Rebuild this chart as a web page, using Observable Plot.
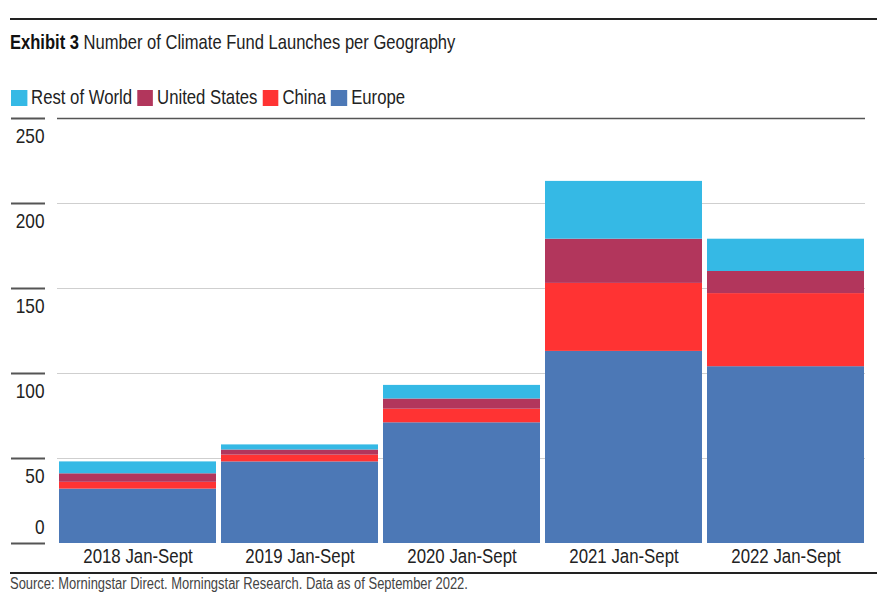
<!DOCTYPE html>
<html>
<head>
<meta charset="utf-8">
<script src="https://cdn.jsdelivr.net/npm/d3@7"></script>
<script src="https://cdn.jsdelivr.net/npm/@observablehq/plot@0.6"></script>
<style>
  html, body { margin: 0; padding: 0; background: #fff; }
  #wrap { position: relative; width: 895px; height: 604px; font-family: "Liberation Sans", Arial, sans-serif; color: #222; overflow: hidden; }
  .rule { position: absolute; left: 10px; width: 867px; background: #222; }
  .narrow { transform: scaleX(0.82); transform-origin: 0 0; }
  #title { position: absolute; left: 10px; top: 31px; font-size: 20.2px; white-space: nowrap; color: #222; }
  #title b { color: #111; }
  #legend { position: absolute; left: 11px; top: 86px; display: flex; align-items: center; font-size: 20.4px; white-space: nowrap; color: #222; }
  #legend .item { display: flex; align-items: center; margin-right: 6px; }
  #legend .sw { width: 19.5px; height: 16px; margin-right: 5px; }
  #chart { position: absolute; left: 0; top: 110px; }
  #source { position: absolute; left: 10px; top: 575px; font-size: 15.8px; color: #444; white-space: nowrap; }
</style>
</head>
<body>
<div id="wrap">
  <div class="rule" style="top:18px;height:2px"></div>
  <div id="title" class="narrow"><b>Exhibit 3</b> Number of Climate Fund Launches per Geography</div>
  <div id="legend" class="narrow"></div>
  <div id="chart"></div>
  <div class="rule" style="top:572px;height:1.5px"></div>
  <div id="source" class="narrow">Source: Morningstar Direct. Morningstar Research. Data as of September 2022.</div>
</div>
<script>
const periods = ["2018 Jan-Sept", "2019 Jan-Sept", "2020 Jan-Sept", "2021 Jan-Sept", "2022 Jan-Sept"];
const geographies = ["Rest of World", "United States", "China", "Europe"];
const colors = ["#35B9E5", "#B2365C", "#FF3333", "#4C78B6"];
const europe = [32, 48, 71, 113, 104];
const china = [4, 4, 8, 40, 43];
const unitedStates = [5, 3, 6, 26, 13];
const restOfWorld = [7, 3, 8, 34, 19];
const yTicks = [0, 50, 100, 150, 200, 250];

const series = {"Europe": europe, "China": china, "United States": unitedStates, "Rest of World": restOfWorld};
const stackOrder = ["Europe", "China", "United States", "Rest of World"];
const rows = [];
for (const g of stackOrder) {
  periods.forEach((p, i) => rows.push({period: p, geo: g, value: series[g][i]}));
}

// legend
const legend = document.getElementById("legend");
geographies.forEach((g, i) => {
  const it = document.createElement("div");
  it.className = "item";
  it.innerHTML = `<span class="sw" style="background:${colors[i]}"></span><span>${g}</span>`;
  legend.appendChild(it);
});

const font = "Liberation Sans, Arial, sans-serif";
const chart = Plot.plot({
  width: 895,
  height: 460,
  marginTop: 8,
  marginBottom: 27,
  marginLeft: 57,
  marginRight: 30,
  style: {fontFamily: font, color: "#222", background: "#fff"},
  x: {domain: periods, paddingInner: 0.032, paddingOuter: 0, label: null},
  y: {domain: [0, 250], label: null},
  color: {domain: geographies, range: colors},
  marks: [
    Plot.ruleY(yTicks.filter(t => t > 0 && t < 250), {stroke: "#cfcfcf", strokeWidth: 1}),
    Plot.ruleY([250], {stroke: "#555", strokeWidth: 1.5}),
    Plot.barY(rows, {x: "period", y: "value", fill: "geo", order: stackOrder}),
    Plot.axisY(yTicks, {tickSize: 34, dx: -12, text: null, stroke: "#555", strokeWidth: 2}),
    Plot.axisY(yTicks.filter(t => t > 0), {tickSize: 0, tickPadding: 13, dy: 18, fontSize: 21, fill: "#222"}),
    Plot.axisY([0], {tickSize: 0, tickPadding: 13, dy: -16, fontSize: 21, fill: "#222"}),
    Plot.axisX({tickSize: 0, tickPadding: 5, fontSize: 20.5, fill: "#222", label: null})
  ]
});
document.getElementById("chart").appendChild(chart);
// condense SVG text to mimic a narrow typeface
chart.querySelectorAll("text").forEach(t => {
  const len = t.getComputedTextLength();
  if (len > 0) {
    t.setAttribute("textLength", (len * 0.82).toFixed(2));
    t.setAttribute("lengthAdjust", "spacingAndGlyphs");
  }
});
</script>
</body>
</html>
